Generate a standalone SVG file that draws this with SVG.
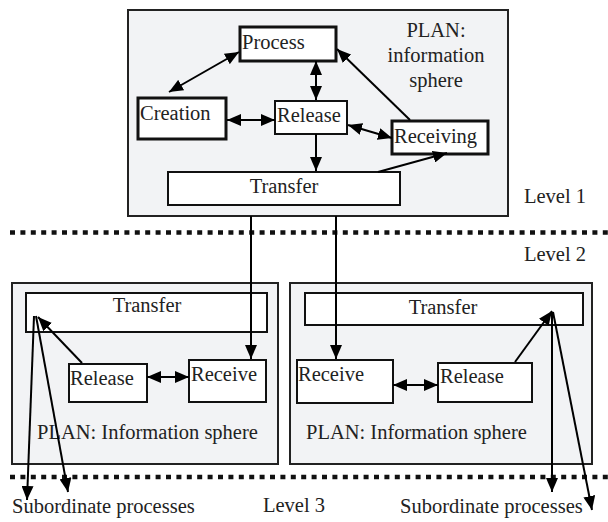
<svg xmlns="http://www.w3.org/2000/svg" width="608" height="522" viewBox="0 0 608 522">
  <style>
    text { font-family: "Liberation Serif", "Times New Roman", serif; font-size: 20.5px; fill: #222; }
    .sphere { fill: #f2f3f5; stroke: #222; stroke-width: 2; }
    .box { fill: #fff; stroke: #111; stroke-width: 2; }
    .box.bold { stroke-width: 3; }
    .link { fill: none; stroke: #000; stroke-width: 2; }
    .one { marker-end: url(#ah); }
    .two { marker-start: url(#ah); marker-end: url(#ah); }
    .level { fill: none; stroke: #111; stroke-width: 4.5; stroke-dasharray: 5 5.4; }
    .mid { text-anchor: middle; }
  </style>
  <defs>
    <marker id="ah" viewBox="0 0 14 12" refX="14" refY="6" markerWidth="14" markerHeight="12" markerUnits="userSpaceOnUse" orient="auto-start-reverse">
      <path d="M0,0 L14,6 L0,12 z" fill="#000"/>
    </marker>
  </defs>

  <!-- level separators -->
  <line class="level" x1="10" y1="232.5" x2="608" y2="232.5"/>
  <line class="level" x1="10" y1="477" x2="608" y2="477"/>
  <text x="524" y="203">Level 1</text>
  <text x="524" y="261">Level 2</text>
  <text x="263" y="512">Level 3</text>

  <!-- level 1 sphere -->
  <g id="plan-top">
    <rect class="sphere" x="128" y="10" width="380" height="206"/>
    <text class="mid" x="436" y="37">PLAN:</text>
    <text class="mid" x="436" y="62">information</text>
    <text class="mid" x="436" y="87">sphere</text>
  </g>
  <g id="process"><rect class="box bold" x="240" y="27" width="96" height="34"/><text x="242" y="49">Process</text></g>
  <g id="creation"><rect class="box bold" x="138" y="98" width="88" height="41"/><text x="140" y="120">Creation</text></g>
  <g id="release-top"><rect class="box" x="275" y="101" width="72" height="33"/><text x="277" y="122">Release</text></g>
  <g id="receiving"><rect class="box bold" x="392" y="121" width="96" height="33"/><text x="394" y="143">Receiving</text></g>
  <g id="transfer-top"><rect class="box" x="168" y="172" width="232" height="33"/><text class="mid" x="284" y="193">Transfer</text></g>

  <!-- level 2 spheres -->
  <g id="plan-left">
    <rect class="sphere" x="12" y="283" width="266" height="181"/>
    <text x="37" y="439">PLAN: Information sphere</text>
  </g>
  <g id="transfer-left"><rect class="box" x="26" y="293" width="241" height="39"/><text class="mid" x="147" y="312">Transfer</text></g>
  <g id="release-left"><rect class="box" x="69" y="364" width="78" height="38"/><text x="70" y="385">Release</text></g>
  <g id="receive-left"><rect class="box" x="189" y="360" width="77" height="42"/><text x="191" y="381">Receive</text></g>

  <g id="plan-right">
    <rect class="sphere" x="290" y="283" width="302" height="181"/>
    <text x="306" y="439">PLAN: Information sphere</text>
  </g>
  <g id="transfer-right"><rect class="box" x="305" y="293" width="278" height="32"/><text class="mid" x="443" y="314">Transfer</text></g>
  <g id="receive-right"><rect class="box" x="297" y="360" width="96" height="43"/><text x="298" y="381">Receive</text></g>
  <g id="release-right"><rect class="box" x="438" y="363" width="94" height="39"/><text x="440" y="383">Release</text></g>

  <text x="12" y="513">Subordinate processes</text>
  <text x="400" y="513">Subordinate processes</text>

  <!-- connectors -->
  <g id="connectors">
    <line class="link two" x1="169" y1="92" x2="239" y2="52"/>
    <line class="link two" x1="316" y1="61" x2="316" y2="100"/>
    <line class="link two" x1="227" y1="120" x2="275" y2="120"/>
    <line class="link two" x1="348" y1="125" x2="392" y2="138"/>
    <line class="link one" x1="410" y1="120" x2="337" y2="49"/>
    <line class="link one" x1="316" y1="134" x2="316" y2="171"/>
    <line class="link one" x1="378" y1="172" x2="447" y2="153"/>
    <line class="link one" x1="251" y1="216" x2="251" y2="359"/>
    <line class="link one" x1="336" y1="216" x2="336" y2="359"/>

    <line class="link one" x1="82" y1="363" x2="38" y2="317"/>
    <line class="link one" x1="34" y1="316" x2="27" y2="500"/>
    <line class="link one" x1="36" y1="316" x2="68" y2="492"/>
    <line class="link two" x1="147" y1="377" x2="189" y2="377"/>

    <line class="link two" x1="393" y1="385" x2="438" y2="385"/>
    <line class="link one" x1="515" y1="362" x2="552" y2="311"/>
    <line class="link one" x1="552" y1="312" x2="552" y2="492"/>
    <line class="link one" x1="553" y1="312" x2="592" y2="510"/>
  </g>
</svg>
